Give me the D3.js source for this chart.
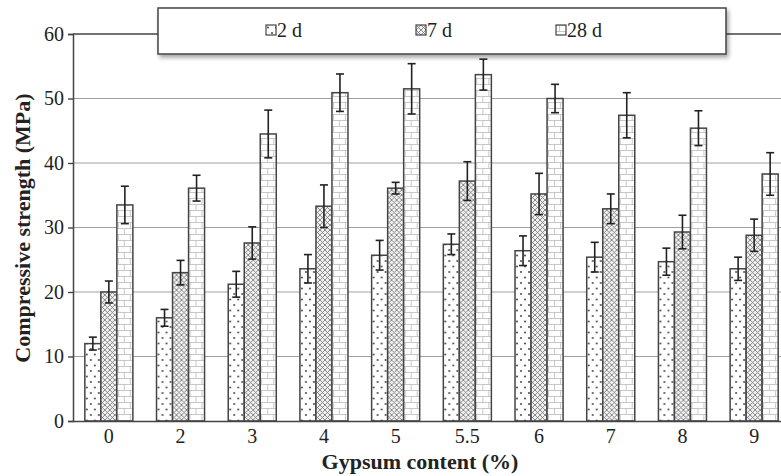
<!DOCTYPE html>
<html><head><meta charset="utf-8">
<script src="https://cdn.jsdelivr.net/npm/d3@7"></script>
<style>body{margin:0;background:#fff}svg{display:block}
svg text{font-family:"Liberation Serif","Times New Roman","DejaVu Serif",serif !important;}
</style>
</head><body>
<svg id="c" width="781" height="476"></svg>
<script>
const categories = ["0","2","3","4","5","5.5","6","7","8","9"];
const seriesNames = ["2 d","7 d","28 d"];
const v2d  = [12.0,16.0,21.2,23.6,25.7,27.4,26.4,25.4,24.7,23.6];
const e2d  = [1.0,1.3,2.0,2.2,2.3,1.6,2.3,2.3,2.1,1.8];
const v7d  = [20.0,23.0,27.6,33.3,36.1,37.2,35.2,32.9,29.3,28.8];
const e7d  = [1.7,1.9,2.5,3.3,0.9,3.0,3.2,2.3,2.6,2.5];
const v28d = [33.5,36.1,44.5,50.9,51.5,53.7,50.0,47.4,45.4,38.3];
const e28d = [2.9,2.0,3.7,2.9,3.9,2.4,2.2,3.5,2.7,3.3];
const yTicks = [0,10,20,30,40,50,60];

const values = [v2d, v7d, v28d];
const errs = [e2d, e7d, e28d];
const patIds = ["pDots","pCross","pBrick"];
const FONT = "'Liberation Serif','Times New Roman','DejaVu Serif',serif";

const svg = d3.select("#c");
const defs = svg.append("defs");
const pd = defs.append("pattern").attr("id","pDots").attr("patternUnits","userSpaceOnUse").attr("width",8).attr("height",11);
pd.append("rect").attr("width",8).attr("height",11).attr("fill","#fff");
pd.append("circle").attr("cx",2).attr("cy",2.5).attr("r",0.9).attr("fill","#333");
pd.append("circle").attr("cx",6).attr("cy",8).attr("r",0.9).attr("fill","#333");
const pc = defs.append("pattern").attr("id","pCross").attr("patternUnits","userSpaceOnUse").attr("width",5).attr("height",5);
pc.append("rect").attr("width",5).attr("height",5).attr("fill","#f2f2f2");
pc.append("path").attr("d","M0,0L5,5M5,0L0,5M-1,4L1,6M4,-1L6,1").attr("stroke","#777").attr("stroke-width",0.85);
const pb = defs.append("pattern").attr("id","pBrick").attr("patternUnits","userSpaceOnUse").attr("width",12).attr("height",12);
pb.append("rect").attr("width",12).attr("height",12).attr("fill","#fff");
pb.append("path").attr("d","M0,0.5H12M0,6.5H12M3.5,0V6M9.5,6V12").attr("stroke","#c8c8c8").attr("stroke-width",1).attr("fill","none");
const f = defs.append("filter").attr("id","sh").attr("x","-5%").attr("y","-20%").attr("width","110%").attr("height","160%");
f.append("feDropShadow").attr("dx",2).attr("dy",3).attr("stdDeviation",2).attr("flood-color","#000").attr("flood-opacity",0.35);

const x0 = d3.scaleBand().domain(categories).range([73, 790]).paddingInner(0.33).paddingOuter(0.165);
const x1 = d3.scaleBand().domain(seriesNames).range([0, x0.bandwidth()]);
const y = d3.scaleLinear().domain([0,60]).range([421, 34]);

svg.append("g").selectAll("line").data(yTicks.filter(t=>t>0 && t<60)).join("line")
  .attr("x1",73).attr("x2",781).attr("y1",d=>y(d)).attr("y2",d=>y(d))
  .attr("stroke","#a0a0a0").attr("stroke-width",1.2);
svg.append("line").attr("x1",73).attr("x2",781).attr("y1",y(60)).attr("y2",y(60)).attr("stroke","#444").attr("stroke-width",1.4);

const groups = svg.append("g").selectAll("g").data(categories).join("g")
  .attr("transform",d=>`translate(${x0(d)},0)`);
seriesNames.forEach((s,si)=>{
  groups.append("rect")
    .attr("x",x1(s)).attr("width",x1.bandwidth())
    .attr("y",(d,i)=>y(values[si][i])).attr("height",(d,i)=>y(0)-y(values[si][i]))
    .attr("fill",`url(#${patIds[si]})`).attr("stroke","#444").attr("stroke-width",1.5);
});
seriesNames.forEach((s,si)=>{
  const cx = x1(s)+x1.bandwidth()/2;
  const eg = groups.append("g").attr("stroke","#222").attr("stroke-width",1.6);
  eg.append("line").attr("x1",cx).attr("x2",cx)
    .attr("y1",(d,i)=>y(values[si][i]+errs[si][i])).attr("y2",(d,i)=>y(values[si][i]-errs[si][i]));
  eg.append("line").attr("x1",cx-4).attr("x2",cx+4)
    .attr("y1",(d,i)=>y(values[si][i]+errs[si][i])).attr("y2",(d,i)=>y(values[si][i]+errs[si][i]));
  eg.append("line").attr("x1",cx-4).attr("x2",cx+4)
    .attr("y1",(d,i)=>y(values[si][i]-errs[si][i])).attr("y2",(d,i)=>y(values[si][i]-errs[si][i]));
});

const yAxis = svg.append("g").attr("transform","translate(73,0)")
  .call(d3.axisLeft(y).tickValues(yTicks).tickSize(5).tickPadding(4));
const xAxis = svg.append("g").attr("transform","translate(0,421)")
  .call(d3.axisBottom(x0).tickSize(0).tickPadding(8));
[yAxis,xAxis].forEach(a=>{
  a.attr("font-family",FONT).attr("font-size",20);
  a.select(".domain").attr("stroke","#444").attr("stroke-width",1.5);
  a.selectAll(".tick line").attr("stroke","#444").attr("stroke-width",1.4);
  a.selectAll("text").attr("fill","#222");
});
xAxis.select(".domain").attr("d","M73,0.5H781");

svg.append("text").attr("x",420).attr("y",469).attr("text-anchor","middle")
  .attr("font-family",FONT).attr("font-weight","bold").attr("font-size",22).attr("fill","#222")
  .text("Gypsum content (%)");
svg.append("text").attr("transform","translate(30,228) rotate(-90)").attr("text-anchor","middle")
  .attr("font-family",FONT).attr("font-weight","bold").attr("font-size",22).attr("fill","#222")
  .text("Compressive strength (MPa)");

const lg = svg.append("g");
lg.append("rect").attr("x",158).attr("y",8).attr("width",568).attr("height",46)
  .attr("fill","#fff").attr("stroke","#444").attr("stroke-width",1.5).attr("filter","url(#sh)");
const legX = [266, 416, 556];
seriesNames.forEach((s,si)=>{
  const g = lg.append("g").attr("transform",`translate(${legX[si]},25)`);
  g.append("rect").attr("x",0).attr("y",0).attr("width",10).attr("height",10)
    .attr("fill",`url(#${patIds[si]})`).attr("stroke","#444").attr("stroke-width",1.2);
  g.append("text").attr("x",11).attr("y",12).attr("font-family",FONT)
    .attr("font-size",20).attr("fill","#222").text(s);
});
</script>
</body></html>
